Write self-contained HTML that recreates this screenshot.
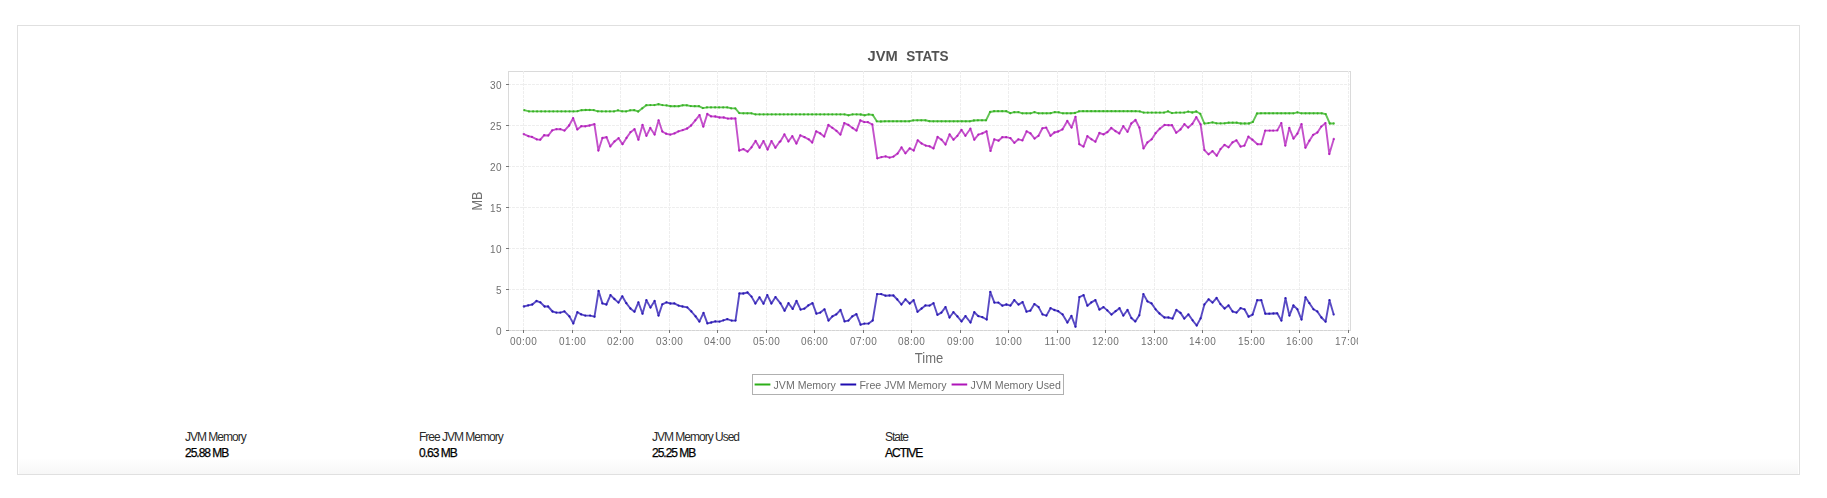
<!DOCTYPE html>
<html><head><meta charset="utf-8"><title>JVM Stats</title>
<style>
html,body{margin:0;padding:0;background:#fff;}
body{width:1827px;height:498px;position:relative;overflow:hidden;font-family:"Liberation Sans",Arial,sans-serif;}
.panel{position:absolute;left:17px;top:25px;width:1781px;height:448px;border:1px solid #e0e0e0;background:#fff;}
.foot{position:absolute;left:19px;top:459px;width:1779px;height:15px;background:linear-gradient(#fefefe,#f7f7f7);}
.st{position:absolute;top:430px;color:#2a2a2a;font-size:12px;letter-spacing:-1px;line-height:15px;}
.st b{display:block;font-weight:normal;color:#000;margin-top:1px;-webkit-text-stroke:0.25px #000;}
</style></head><body>
<div class="panel"></div>
<div class="foot"></div>
<div class="st" style="left:185px">JVM Memory<b>25.88 MB</b></div>
<div class="st" style="left:419px">Free JVM Memory<b>0.63 MB</b></div>
<div class="st" style="left:652px">JVM Memory Used<b>25.25 MB</b></div>
<div class="st" style="left:885px">State<b>ACTIVE</b></div>
<svg width="1827" height="498" viewBox="0 0 1827 498" style="position:absolute;left:0;top:0;will-change:transform">
<text y="61" font-family="Liberation Sans, Arial, sans-serif" font-size="14" font-weight="bold" fill="#525252"><tspan x="867.6" textLength="30.2" lengthAdjust="spacingAndGlyphs">JVM</tspan> <tspan x="906.2" textLength="42.4" lengthAdjust="spacingAndGlyphs">STATS</tspan></text>
<defs><clipPath id="cp"><rect x="0" y="0" width="1358" height="498"/></clipPath></defs><g clip-path="url(#cp)">
<rect x="508.5" y="71.5" width="842" height="259" fill="#fff" stroke="#dadada" stroke-width="1"/>
<path d="M508,84.5H1350 M508,125.5H1350 M508,166.5H1350 M508,207.5H1350 M508,248.5H1350 M508,289.5H1350 M523.5,71V330 M572.5,71V330 M620.5,71V330 M669.5,71V330 M717.5,71V330 M766.5,71V330 M814.5,71V330 M863.5,71V330 M911.5,71V330 M960.5,71V330 M1008.5,71V330 M1057.5,71V330 M1105.5,71V330 M1154.5,71V330 M1202.5,71V330 M1251.5,71V330 M1299.5,71V330 M1348.5,71V330" stroke="#eeeeee" stroke-width="1" stroke-dasharray="3,1" fill="none"/>
<path d="M508,330.5H1350" stroke="#e2e2e2" stroke-width="1" fill="none"/>
<path d="M508,330.5H1350" stroke="#d4d4d4" stroke-width="1" stroke-dasharray="3,1" fill="none"/>
<path d="M506,84.5h3 M506,125.5h3 M506,166.5h3 M506,207.5h3 M506,248.5h3 M506,289.5h3 M506,330.5h3 M523.5,330v3 M572.5,330v3 M620.5,330v3 M669.5,330v3 M717.5,330v3 M766.5,330v3 M814.5,330v3 M863.5,330v3 M911.5,330v3 M960.5,330v3 M1008.5,330v3 M1057.5,330v3 M1105.5,330v3 M1154.5,330v3 M1202.5,330v3 M1251.5,330v3 M1299.5,330v3 M1348.5,330v3" stroke="#777" stroke-width="1" fill="none"/>
<text x="501.9" y="89" text-anchor="end" letter-spacing="0.44" font-family="Liberation Sans, Arial, sans-serif" font-size="10" fill="#707070">30</text>
<text x="501.9" y="130" text-anchor="end" letter-spacing="0.44" font-family="Liberation Sans, Arial, sans-serif" font-size="10" fill="#707070">25</text>
<text x="501.9" y="171" text-anchor="end" letter-spacing="0.44" font-family="Liberation Sans, Arial, sans-serif" font-size="10" fill="#707070">20</text>
<text x="501.9" y="212" text-anchor="end" letter-spacing="0.44" font-family="Liberation Sans, Arial, sans-serif" font-size="10" fill="#707070">15</text>
<text x="501.9" y="253" text-anchor="end" letter-spacing="0.44" font-family="Liberation Sans, Arial, sans-serif" font-size="10" fill="#707070">10</text>
<text x="501.9" y="294" text-anchor="end" letter-spacing="0.44" font-family="Liberation Sans, Arial, sans-serif" font-size="10" fill="#707070">5</text>
<text x="501.9" y="335" text-anchor="end" letter-spacing="0.44" font-family="Liberation Sans, Arial, sans-serif" font-size="10" fill="#707070">0</text>
<text x="523.7" y="345" text-anchor="middle" letter-spacing="0.44" font-family="Liberation Sans, Arial, sans-serif" font-size="10" fill="#707070">00:00</text>
<text x="572.7" y="345" text-anchor="middle" letter-spacing="0.44" font-family="Liberation Sans, Arial, sans-serif" font-size="10" fill="#707070">01:00</text>
<text x="620.7" y="345" text-anchor="middle" letter-spacing="0.44" font-family="Liberation Sans, Arial, sans-serif" font-size="10" fill="#707070">02:00</text>
<text x="669.7" y="345" text-anchor="middle" letter-spacing="0.44" font-family="Liberation Sans, Arial, sans-serif" font-size="10" fill="#707070">03:00</text>
<text x="717.7" y="345" text-anchor="middle" letter-spacing="0.44" font-family="Liberation Sans, Arial, sans-serif" font-size="10" fill="#707070">04:00</text>
<text x="766.7" y="345" text-anchor="middle" letter-spacing="0.44" font-family="Liberation Sans, Arial, sans-serif" font-size="10" fill="#707070">05:00</text>
<text x="814.7" y="345" text-anchor="middle" letter-spacing="0.44" font-family="Liberation Sans, Arial, sans-serif" font-size="10" fill="#707070">06:00</text>
<text x="863.7" y="345" text-anchor="middle" letter-spacing="0.44" font-family="Liberation Sans, Arial, sans-serif" font-size="10" fill="#707070">07:00</text>
<text x="911.7" y="345" text-anchor="middle" letter-spacing="0.44" font-family="Liberation Sans, Arial, sans-serif" font-size="10" fill="#707070">08:00</text>
<text x="960.7" y="345" text-anchor="middle" letter-spacing="0.44" font-family="Liberation Sans, Arial, sans-serif" font-size="10" fill="#707070">09:00</text>
<text x="1008.7" y="345" text-anchor="middle" letter-spacing="0.44" font-family="Liberation Sans, Arial, sans-serif" font-size="10" fill="#707070">10:00</text>
<text x="1057.7" y="345" text-anchor="middle" letter-spacing="0.44" font-family="Liberation Sans, Arial, sans-serif" font-size="10" fill="#707070">11:00</text>
<text x="1105.7" y="345" text-anchor="middle" letter-spacing="0.44" font-family="Liberation Sans, Arial, sans-serif" font-size="10" fill="#707070">12:00</text>
<text x="1154.7" y="345" text-anchor="middle" letter-spacing="0.44" font-family="Liberation Sans, Arial, sans-serif" font-size="10" fill="#707070">13:00</text>
<text x="1202.7" y="345" text-anchor="middle" letter-spacing="0.44" font-family="Liberation Sans, Arial, sans-serif" font-size="10" fill="#707070">14:00</text>
<text x="1251.7" y="345" text-anchor="middle" letter-spacing="0.44" font-family="Liberation Sans, Arial, sans-serif" font-size="10" fill="#707070">15:00</text>
<text x="1299.7" y="345" text-anchor="middle" letter-spacing="0.44" font-family="Liberation Sans, Arial, sans-serif" font-size="10" fill="#707070">16:00</text>
<text x="1348.7" y="345" text-anchor="middle" letter-spacing="0.44" font-family="Liberation Sans, Arial, sans-serif" font-size="10" fill="#707070">17:00</text>
<text x="929" y="363" text-anchor="middle" textLength="28.4" lengthAdjust="spacingAndGlyphs" font-family="Liberation Sans, Arial, sans-serif" font-size="14" fill="#6e6e6e">Time</text>
<text x="482.3" y="201" transform="rotate(-90 482.3 201)" text-anchor="middle" textLength="19" lengthAdjust="spacingAndGlyphs" font-family="Liberation Sans, Arial, sans-serif" font-size="14" fill="#707070">MB</text>
<path d="M524.2,110.2 L529.0,111.4 L533.1,111.4 L537.1,111.4 L541.2,111.4 L545.2,111.4 L549.3,111.4 L553.3,111.4 L557.4,111.4 L561.4,111.4 L565.4,111.4 L569.5,111.4 L573.5,111.4 L577.6,111.2 L581.6,110.2 L585.7,110.0 L589.7,110.0 L593.7,110.1 L597.8,111.3 L601.8,111.4 L605.9,111.4 L609.9,111.4 L614.0,111.4 L618.0,110.3 L622.1,111.3 L626.1,111.4 L630.1,110.3 L634.2,110.2 L638.2,111.5 L642.3,108.3 L646.3,105.2 L650.4,105.1 L654.4,105.1 L658.5,104.2 L662.5,105.1 L666.5,105.4 L670.6,106.2 L674.6,106.2 L678.7,106.2 L682.7,105.3 L686.8,105.3 L690.8,106.1 L694.8,106.2 L698.9,106.2 L702.9,108.1 L707.0,107.4 L711.0,107.4 L715.1,107.4 L719.1,107.4 L723.2,107.4 L727.2,107.4 L731.2,108.3 L735.3,108.4 L739.3,113.1 L743.4,113.3 L747.4,113.3 L751.5,113.3 L755.5,114.4 L759.6,114.4 L763.6,114.4 L767.6,114.4 L771.7,114.4 L775.7,114.4 L779.8,114.4 L783.8,114.4 L787.9,114.4 L791.9,114.4 L795.9,114.4 L800.0,114.4 L804.0,114.4 L808.1,114.4 L812.1,114.4 L816.2,114.4 L820.2,114.4 L824.3,114.4 L828.3,114.4 L832.3,114.4 L836.4,114.4 L840.4,114.4 L844.5,114.4 L848.5,115.3 L852.6,114.4 L856.6,114.4 L860.7,114.5 L864.7,115.3 L868.7,114.4 L872.8,115.0 L876.8,121.3 L880.9,121.5 L884.9,121.3 L889.0,121.3 L893.0,121.3 L897.0,121.3 L901.1,121.3 L905.1,121.3 L909.2,121.3 L913.2,120.4 L917.3,120.3 L921.3,120.3 L925.4,120.3 L929.4,121.2 L933.4,121.3 L937.5,121.3 L941.5,121.3 L945.6,121.3 L949.6,121.3 L953.7,121.3 L957.7,121.3 L961.8,121.3 L965.8,121.3 L969.8,121.3 L973.9,120.5 L977.9,120.3 L982.0,120.3 L986.0,120.3 L990.1,112.0 L994.1,111.2 L998.1,111.2 L1002.2,111.2 L1006.2,111.2 L1010.3,113.2 L1014.3,112.2 L1018.4,112.1 L1022.4,113.3 L1026.5,113.3 L1030.5,113.3 L1034.5,112.2 L1038.6,113.3 L1042.6,113.3 L1046.7,113.3 L1050.7,113.2 L1054.8,112.1 L1058.8,112.3 L1062.9,113.3 L1066.9,113.3 L1070.9,113.3 L1075.0,113.0 L1079.0,111.3 L1083.1,111.2 L1087.1,111.2 L1091.2,111.2 L1095.2,111.2 L1099.2,111.2 L1103.3,111.2 L1107.3,111.2 L1111.4,111.2 L1115.4,111.2 L1119.5,111.2 L1123.5,111.2 L1127.6,111.2 L1131.6,111.2 L1135.6,111.2 L1139.7,111.4 L1143.7,112.6 L1147.8,112.6 L1151.8,112.6 L1155.9,112.6 L1159.9,112.6 L1164.0,112.6 L1168.0,111.3 L1172.0,113.1 L1176.1,112.6 L1180.1,112.6 L1184.2,112.6 L1188.2,111.6 L1192.3,112.5 L1196.3,111.5 L1200.3,113.8 L1204.4,123.5 L1208.4,123.1 L1212.5,122.4 L1216.5,123.3 L1220.6,123.4 L1224.6,123.3 L1228.7,122.7 L1232.7,122.7 L1236.7,122.7 L1240.8,123.5 L1244.8,123.5 L1248.9,123.5 L1252.9,121.9 L1257.0,113.5 L1261.0,113.3 L1265.1,113.3 L1269.1,113.3 L1273.1,113.3 L1277.2,113.3 L1281.2,113.3 L1285.3,113.3 L1289.3,113.3 L1293.4,113.3 L1297.4,112.3 L1301.4,113.3 L1305.5,113.3 L1309.5,113.3 L1313.6,113.3 L1317.6,113.3 L1321.7,113.3 L1325.7,114.1 L1329.8,123.5 L1333.8,123.5" stroke="#2daf19" stroke-width="1.9" stroke-opacity="0.74" fill="none" stroke-linejoin="round"/>
<path d="M524.2,110.2h0M529.0,111.4h0M533.1,111.4h0M537.1,111.4h0M541.2,111.4h0M545.2,111.4h0M549.3,111.4h0M553.3,111.4h0M557.4,111.4h0M561.4,111.4h0M565.4,111.4h0M569.5,111.4h0M573.5,111.4h0M577.6,111.2h0M581.6,110.2h0M585.7,110.0h0M589.7,110.0h0M593.7,110.1h0M597.8,111.3h0M601.8,111.4h0M605.9,111.4h0M609.9,111.4h0M614.0,111.4h0M618.0,110.3h0M622.1,111.3h0M626.1,111.4h0M630.1,110.3h0M634.2,110.2h0M638.2,111.5h0M642.3,108.3h0M646.3,105.2h0M650.4,105.1h0M654.4,105.1h0M658.5,104.2h0M662.5,105.1h0M666.5,105.4h0M670.6,106.2h0M674.6,106.2h0M678.7,106.2h0M682.7,105.3h0M686.8,105.3h0M690.8,106.1h0M694.8,106.2h0M698.9,106.2h0M702.9,108.1h0M707.0,107.4h0M711.0,107.4h0M715.1,107.4h0M719.1,107.4h0M723.2,107.4h0M727.2,107.4h0M731.2,108.3h0M735.3,108.4h0M739.3,113.1h0M743.4,113.3h0M747.4,113.3h0M751.5,113.3h0M755.5,114.4h0M759.6,114.4h0M763.6,114.4h0M767.6,114.4h0M771.7,114.4h0M775.7,114.4h0M779.8,114.4h0M783.8,114.4h0M787.9,114.4h0M791.9,114.4h0M795.9,114.4h0M800.0,114.4h0M804.0,114.4h0M808.1,114.4h0M812.1,114.4h0M816.2,114.4h0M820.2,114.4h0M824.3,114.4h0M828.3,114.4h0M832.3,114.4h0M836.4,114.4h0M840.4,114.4h0M844.5,114.4h0M848.5,115.3h0M852.6,114.4h0M856.6,114.4h0M860.7,114.5h0M864.7,115.3h0M868.7,114.4h0M872.8,115.0h0M876.8,121.3h0M880.9,121.5h0M884.9,121.3h0M889.0,121.3h0M893.0,121.3h0M897.0,121.3h0M901.1,121.3h0M905.1,121.3h0M909.2,121.3h0M913.2,120.4h0M917.3,120.3h0M921.3,120.3h0M925.4,120.3h0M929.4,121.2h0M933.4,121.3h0M937.5,121.3h0M941.5,121.3h0M945.6,121.3h0M949.6,121.3h0M953.7,121.3h0M957.7,121.3h0M961.8,121.3h0M965.8,121.3h0M969.8,121.3h0M973.9,120.5h0M977.9,120.3h0M982.0,120.3h0M986.0,120.3h0M990.1,112.0h0M994.1,111.2h0M998.1,111.2h0M1002.2,111.2h0M1006.2,111.2h0M1010.3,113.2h0M1014.3,112.2h0M1018.4,112.1h0M1022.4,113.3h0M1026.5,113.3h0M1030.5,113.3h0M1034.5,112.2h0M1038.6,113.3h0M1042.6,113.3h0M1046.7,113.3h0M1050.7,113.2h0M1054.8,112.1h0M1058.8,112.3h0M1062.9,113.3h0M1066.9,113.3h0M1070.9,113.3h0M1075.0,113.0h0M1079.0,111.3h0M1083.1,111.2h0M1087.1,111.2h0M1091.2,111.2h0M1095.2,111.2h0M1099.2,111.2h0M1103.3,111.2h0M1107.3,111.2h0M1111.4,111.2h0M1115.4,111.2h0M1119.5,111.2h0M1123.5,111.2h0M1127.6,111.2h0M1131.6,111.2h0M1135.6,111.2h0M1139.7,111.4h0M1143.7,112.6h0M1147.8,112.6h0M1151.8,112.6h0M1155.9,112.6h0M1159.9,112.6h0M1164.0,112.6h0M1168.0,111.3h0M1172.0,113.1h0M1176.1,112.6h0M1180.1,112.6h0M1184.2,112.6h0M1188.2,111.6h0M1192.3,112.5h0M1196.3,111.5h0M1200.3,113.8h0M1204.4,123.5h0M1208.4,123.1h0M1212.5,122.4h0M1216.5,123.3h0M1220.6,123.4h0M1224.6,123.3h0M1228.7,122.7h0M1232.7,122.7h0M1236.7,122.7h0M1240.8,123.5h0M1244.8,123.5h0M1248.9,123.5h0M1252.9,121.9h0M1257.0,113.5h0M1261.0,113.3h0M1265.1,113.3h0M1269.1,113.3h0M1273.1,113.3h0M1277.2,113.3h0M1281.2,113.3h0M1285.3,113.3h0M1289.3,113.3h0M1293.4,113.3h0M1297.4,112.3h0M1301.4,113.3h0M1305.5,113.3h0M1309.5,113.3h0M1313.6,113.3h0M1317.6,113.3h0M1321.7,113.3h0M1325.7,114.1h0M1329.8,123.5h0M1333.8,123.5h0" stroke="#2daf19" stroke-width="2.3" stroke-opacity="0.8" stroke-linecap="round" fill="none"/>
<path d="M523.8,306.5 L528.2,305.4 L532.3,304.5 L536.5,301.0 L540.4,302.4 L544.6,306.5 L548.1,306.5 L552.5,311.5 L556.4,312.6 L560.3,312.6 L564.4,311.4 L569.4,316.4 L573.3,323.4 L577.4,312.2 L581.2,314.4 L585.3,315.6 L590.1,315.6 L594.5,316.7 L598.6,291.0 L602.4,303.4 L606.4,304.5 L610.5,295.1 L614.4,299.0 L618.5,302.6 L622.3,296.3 L626.3,303.2 L630.4,308.5 L634.5,311.7 L638.4,302.3 L642.5,313.7 L646.4,300.2 L650.5,307.6 L654.6,301.0 L658.5,315.6 L662.3,304.3 L666.5,302.3 L670.4,303.5 L674.3,303.4 L678.7,305.6 L682.5,306.5 L687.3,307.4 L691.4,311.5 L695.6,316.4 L699.4,321.6 L703.5,312.9 L707.4,323.4 L711.2,322.5 L715.3,321.4 L719.5,321.6 L723.4,320.3 L727.3,319.2 L731.7,320.6 L735.5,320.6 L739.4,293.5 L743.3,293.5 L747.5,292.5 L751.5,296.6 L755.4,303.5 L759.5,297.3 L763.5,303.7 L767.3,295.1 L771.4,303.5 L775.5,297.1 L780.5,303.4 L784.6,310.7 L788.5,303.2 L792.7,308.9 L796.5,301.0 L800.6,309.6 L804.3,308.7 L808.3,305.4 L812.5,303.2 L816.4,313.7 L820.3,312.6 L824.5,309.3 L828.5,320.6 L832.4,316.4 L836.3,314.4 L840.5,310.0 L844.6,321.4 L848.4,320.6 L852.3,316.4 L856.4,314.2 L860.6,324.7 L864.4,323.6 L868.6,323.6 L872.7,320.5 L877.1,294.1 L881.2,294.1 L885.4,295.7 L889.5,295.5 L893.4,295.5 L897.3,299.5 L901.4,304.5 L905.5,299.3 L909.7,303.5 L913.6,300.2 L917.5,311.8 L921.6,308.5 L925.4,305.4 L929.5,305.6 L933.5,303.2 L937.4,314.8 L941.4,312.6 L945.5,307.1 L949.5,317.5 L953.4,312.2 L957.4,316.4 L961.5,321.4 L965.5,316.1 L970.5,322.5 L974.3,312.2 L978.4,316.2 L982.3,317.2 L986.7,319.5 L990.3,291.9 L994.4,302.6 L998.3,302.6 L1002.4,305.7 L1006.4,304.5 L1010.4,305.6 L1014.3,300.1 L1018.5,304.6 L1022.6,302.1 L1026.5,311.7 L1030.3,310.7 L1034.4,304.1 L1038.6,307.1 L1042.5,314.4 L1046.4,315.6 L1050.5,308.2 L1054.3,310.0 L1058.2,311.2 L1062.6,314.4 L1067.4,322.5 L1071.4,315.9 L1075.5,326.7 L1079.4,297.1 L1083.6,295.2 L1087.4,305.7 L1091.3,302.4 L1095.4,300.1 L1099.4,309.6 L1103.5,307.1 L1107.3,310.4 L1111.5,314.6 L1115.6,311.2 L1119.5,308.2 L1123.3,315.6 L1127.5,310.0 L1131.4,318.1 L1135.3,321.4 L1139.3,315.3 L1143.4,294.1 L1147.4,301.3 L1151.5,303.4 L1155.6,309.3 L1159.5,313.5 L1164.4,317.5 L1168.4,317.5 L1172.5,318.6 L1176.4,310.0 L1180.5,312.9 L1184.3,318.6 L1188.4,314.4 L1192.6,320.3 L1196.7,325.5 L1200.6,318.4 L1204.4,304.5 L1208.6,299.3 L1212.5,302.6 L1216.6,298.0 L1220.4,304.1 L1224.6,308.5 L1228.5,305.4 L1232.6,311.5 L1236.5,312.6 L1240.6,308.2 L1244.5,309.3 L1248.6,316.7 L1252.6,314.6 L1257.2,300.2 L1261.3,300.2 L1265.3,313.7 L1269.3,313.7 L1273.4,313.5 L1277.2,313.3 L1281.4,320.6 L1285.5,298.2 L1289.4,315.6 L1293.4,305.4 L1297.4,309.3 L1301.5,319.5 L1305.5,297.3 L1309.4,303.2 L1313.5,309.3 L1317.3,311.5 L1321.4,317.5 L1325.6,321.7 L1329.5,300.2 L1333.7,314.6" stroke="#1f0cb0" stroke-width="1.9" stroke-opacity="0.74" fill="none" stroke-linejoin="round"/>
<path d="M523.8,306.5h0M528.2,305.4h0M532.3,304.5h0M536.5,301.0h0M540.4,302.4h0M544.6,306.5h0M548.1,306.5h0M552.5,311.5h0M556.4,312.6h0M560.3,312.6h0M564.4,311.4h0M569.4,316.4h0M573.3,323.4h0M577.4,312.2h0M581.2,314.4h0M585.3,315.6h0M590.1,315.6h0M594.5,316.7h0M598.6,291.0h0M602.4,303.4h0M606.4,304.5h0M610.5,295.1h0M614.4,299.0h0M618.5,302.6h0M622.3,296.3h0M626.3,303.2h0M630.4,308.5h0M634.5,311.7h0M638.4,302.3h0M642.5,313.7h0M646.4,300.2h0M650.5,307.6h0M654.6,301.0h0M658.5,315.6h0M662.3,304.3h0M666.5,302.3h0M670.4,303.5h0M674.3,303.4h0M678.7,305.6h0M682.5,306.5h0M687.3,307.4h0M691.4,311.5h0M695.6,316.4h0M699.4,321.6h0M703.5,312.9h0M707.4,323.4h0M711.2,322.5h0M715.3,321.4h0M719.5,321.6h0M723.4,320.3h0M727.3,319.2h0M731.7,320.6h0M735.5,320.6h0M739.4,293.5h0M743.3,293.5h0M747.5,292.5h0M751.5,296.6h0M755.4,303.5h0M759.5,297.3h0M763.5,303.7h0M767.3,295.1h0M771.4,303.5h0M775.5,297.1h0M780.5,303.4h0M784.6,310.7h0M788.5,303.2h0M792.7,308.9h0M796.5,301.0h0M800.6,309.6h0M804.3,308.7h0M808.3,305.4h0M812.5,303.2h0M816.4,313.7h0M820.3,312.6h0M824.5,309.3h0M828.5,320.6h0M832.4,316.4h0M836.3,314.4h0M840.5,310.0h0M844.6,321.4h0M848.4,320.6h0M852.3,316.4h0M856.4,314.2h0M860.6,324.7h0M864.4,323.6h0M868.6,323.6h0M872.7,320.5h0M877.1,294.1h0M881.2,294.1h0M885.4,295.7h0M889.5,295.5h0M893.4,295.5h0M897.3,299.5h0M901.4,304.5h0M905.5,299.3h0M909.7,303.5h0M913.6,300.2h0M917.5,311.8h0M921.6,308.5h0M925.4,305.4h0M929.5,305.6h0M933.5,303.2h0M937.4,314.8h0M941.4,312.6h0M945.5,307.1h0M949.5,317.5h0M953.4,312.2h0M957.4,316.4h0M961.5,321.4h0M965.5,316.1h0M970.5,322.5h0M974.3,312.2h0M978.4,316.2h0M982.3,317.2h0M986.7,319.5h0M990.3,291.9h0M994.4,302.6h0M998.3,302.6h0M1002.4,305.7h0M1006.4,304.5h0M1010.4,305.6h0M1014.3,300.1h0M1018.5,304.6h0M1022.6,302.1h0M1026.5,311.7h0M1030.3,310.7h0M1034.4,304.1h0M1038.6,307.1h0M1042.5,314.4h0M1046.4,315.6h0M1050.5,308.2h0M1054.3,310.0h0M1058.2,311.2h0M1062.6,314.4h0M1067.4,322.5h0M1071.4,315.9h0M1075.5,326.7h0M1079.4,297.1h0M1083.6,295.2h0M1087.4,305.7h0M1091.3,302.4h0M1095.4,300.1h0M1099.4,309.6h0M1103.5,307.1h0M1107.3,310.4h0M1111.5,314.6h0M1115.6,311.2h0M1119.5,308.2h0M1123.3,315.6h0M1127.5,310.0h0M1131.4,318.1h0M1135.3,321.4h0M1139.3,315.3h0M1143.4,294.1h0M1147.4,301.3h0M1151.5,303.4h0M1155.6,309.3h0M1159.5,313.5h0M1164.4,317.5h0M1168.4,317.5h0M1172.5,318.6h0M1176.4,310.0h0M1180.5,312.9h0M1184.3,318.6h0M1188.4,314.4h0M1192.6,320.3h0M1196.7,325.5h0M1200.6,318.4h0M1204.4,304.5h0M1208.6,299.3h0M1212.5,302.6h0M1216.6,298.0h0M1220.4,304.1h0M1224.6,308.5h0M1228.5,305.4h0M1232.6,311.5h0M1236.5,312.6h0M1240.6,308.2h0M1244.5,309.3h0M1248.6,316.7h0M1252.6,314.6h0M1257.2,300.2h0M1261.3,300.2h0M1265.3,313.7h0M1269.3,313.7h0M1273.4,313.5h0M1277.2,313.3h0M1281.4,320.6h0M1285.5,298.2h0M1289.4,315.6h0M1293.4,305.4h0M1297.4,309.3h0M1301.5,319.5h0M1305.5,297.3h0M1309.4,303.2h0M1313.5,309.3h0M1317.3,311.5h0M1321.4,317.5h0M1325.6,321.7h0M1329.5,300.2h0M1333.7,314.6h0" stroke="#1f0cb0" stroke-width="2.3" stroke-opacity="0.8" stroke-linecap="round" fill="none"/>
<path d="M523.7,134.1 L528.4,136.2 L531.9,136.9 L536.8,139.4 L540.3,139.7 L544.2,135.2 L548.3,135.5 L552.2,130.4 L556.5,129.2 L560.3,129.2 L564.5,130.6 L569.1,125.5 L573.1,118.2 L577.3,129.4 L581.3,126.2 L585.3,126.3 L589.5,125.5 L594.4,124.2 L598.4,150.5 L602.4,138.0 L606.5,137.2 L610.3,146.4 L614.5,141.4 L618.6,138.2 L622.5,144.2 L626.5,137.9 L630.5,132.2 L634.5,129.2 L638.4,139.7 L642.5,124.9 L646.4,135.8 L650.3,128.0 L654.6,134.6 L658.6,120.3 L662.3,131.5 L666.1,133.7 L670.3,134.6 L674.5,133.4 L678.5,131.3 L682.7,130.1 L687.2,128.5 L691.1,125.5 L695.3,120.3 L699.5,115.1 L703.3,126.6 L707.3,114.0 L711.1,116.4 L715.3,116.5 L719.5,117.5 L723.7,117.5 L727.9,118.6 L731.4,118.5 L735.4,118.5 L739.2,150.5 L743.4,149.1 L747.6,151.6 L751.5,147.3 L755.6,141.0 L759.6,147.7 L763.5,141.1 L767.6,149.5 L771.5,141.1 L775.4,147.7 L779.7,141.8 L780.3,141.4 L784.4,134.4 L788.4,141.4 L792.3,136.2 L796.4,143.5 L800.3,135.3 L804.5,137.2 L808.7,139.3 L812.2,142.5 L816.2,131.3 L820.3,133.4 L824.2,136.5 L828.4,124.9 L832.3,127.8 L836.4,130.8 L840.4,134.6 L844.3,123.1 L848.4,124.9 L852.6,128.0 L856.5,130.6 L860.3,120.3 L864.3,122.1 L867.8,122.1 L872.3,124.5 L877.3,158.3 L881.5,157.1 L885.6,156.4 L889.6,157.6 L893.5,156.6 L897.6,153.6 L901.5,147.4 L905.4,153.3 L909.7,148.4 L913.7,150.5 L917.7,140.3 L921.6,143.5 L925.8,145.6 L929.6,146.3 L933.5,148.4 L937.6,136.9 L941.5,139.7 L945.5,144.5 L949.6,134.4 L953.5,139.7 L957.4,135.8 L961.5,129.9 L965.4,135.8 L970.4,128.7 L974.3,139.7 L978.4,134.6 L982.3,133.4 L986.5,131.3 L990.5,150.9 L994.3,139.3 L998.5,140.7 L1002.3,137.2 L1006.2,137.2 L1010.4,138.2 L1014.4,142.8 L1018.4,139.3 L1022.4,140.4 L1026.6,131.3 L1030.5,133.4 L1034.6,138.6 L1038.5,135.8 L1042.4,128.3 L1046.2,127.6 L1050.5,135.8 L1054.4,132.5 L1058.2,131.5 L1062.4,129.4 L1067.3,121.0 L1071.5,127.6 L1075.5,116.8 L1079.3,144.2 L1083.5,146.6 L1087.4,136.2 L1091.5,139.3 L1095.4,141.7 L1099.4,133.0 L1103.5,134.4 L1107.4,132.2 L1111.3,128.0 L1115.4,131.1 L1119.3,133.4 L1123.3,126.2 L1127.5,131.8 L1131.3,123.5 L1135.5,120.0 L1139.4,127.6 L1143.5,148.4 L1147.4,142.5 L1151.7,139.3 L1155.6,133.2 L1159.8,128.7 L1164.6,124.9 L1168.5,125.2 L1172.0,125.2 L1176.2,132.7 L1180.5,129.4 L1184.4,124.2 L1188.2,127.6 L1192.4,123.8 L1196.3,117.2 L1200.6,124.5 L1204.4,150.1 L1208.6,154.3 L1212.5,151.2 L1216.7,155.7 L1220.5,149.1 L1224.5,144.9 L1228.5,147.3 L1232.5,142.4 L1236.4,140.3 L1240.6,146.6 L1244.4,145.6 L1248.4,136.7 L1252.4,139.7 L1257.5,144.2 L1261.3,144.2 L1265.2,130.6 L1269.7,130.6 L1273.2,130.6 L1277.3,130.4 L1281.3,123.1 L1285.3,145.6 L1289.3,128.0 L1293.5,138.6 L1297.4,133.7 L1301.5,124.2 L1305.4,147.7 L1309.4,140.7 L1313.2,134.8 L1317.4,132.5 L1321.3,126.6 L1325.4,123.1 L1329.3,154.0 L1333.8,139.0" stroke="#af14b9" stroke-width="1.9" stroke-opacity="0.74" fill="none" stroke-linejoin="round"/>
<path d="M523.7,134.1h0M528.4,136.2h0M531.9,136.9h0M536.8,139.4h0M540.3,139.7h0M544.2,135.2h0M548.3,135.5h0M552.2,130.4h0M556.5,129.2h0M560.3,129.2h0M564.5,130.6h0M569.1,125.5h0M573.1,118.2h0M577.3,129.4h0M581.3,126.2h0M585.3,126.3h0M589.5,125.5h0M594.4,124.2h0M598.4,150.5h0M602.4,138.0h0M606.5,137.2h0M610.3,146.4h0M614.5,141.4h0M618.6,138.2h0M622.5,144.2h0M626.5,137.9h0M630.5,132.2h0M634.5,129.2h0M638.4,139.7h0M642.5,124.9h0M646.4,135.8h0M650.3,128.0h0M654.6,134.6h0M658.6,120.3h0M662.3,131.5h0M666.1,133.7h0M670.3,134.6h0M674.5,133.4h0M678.5,131.3h0M682.7,130.1h0M687.2,128.5h0M691.1,125.5h0M695.3,120.3h0M699.5,115.1h0M703.3,126.6h0M707.3,114.0h0M711.1,116.4h0M715.3,116.5h0M719.5,117.5h0M723.7,117.5h0M727.9,118.6h0M731.4,118.5h0M735.4,118.5h0M739.2,150.5h0M743.4,149.1h0M747.6,151.6h0M751.5,147.3h0M755.6,141.0h0M759.6,147.7h0M763.5,141.1h0M767.6,149.5h0M771.5,141.1h0M775.4,147.7h0M779.7,141.8h0M780.3,141.4h0M784.4,134.4h0M788.4,141.4h0M792.3,136.2h0M796.4,143.5h0M800.3,135.3h0M804.5,137.2h0M808.7,139.3h0M812.2,142.5h0M816.2,131.3h0M820.3,133.4h0M824.2,136.5h0M828.4,124.9h0M832.3,127.8h0M836.4,130.8h0M840.4,134.6h0M844.3,123.1h0M848.4,124.9h0M852.6,128.0h0M856.5,130.6h0M860.3,120.3h0M864.3,122.1h0M867.8,122.1h0M872.3,124.5h0M877.3,158.3h0M881.5,157.1h0M885.6,156.4h0M889.6,157.6h0M893.5,156.6h0M897.6,153.6h0M901.5,147.4h0M905.4,153.3h0M909.7,148.4h0M913.7,150.5h0M917.7,140.3h0M921.6,143.5h0M925.8,145.6h0M929.6,146.3h0M933.5,148.4h0M937.6,136.9h0M941.5,139.7h0M945.5,144.5h0M949.6,134.4h0M953.5,139.7h0M957.4,135.8h0M961.5,129.9h0M965.4,135.8h0M970.4,128.7h0M974.3,139.7h0M978.4,134.6h0M982.3,133.4h0M986.5,131.3h0M990.5,150.9h0M994.3,139.3h0M998.5,140.7h0M1002.3,137.2h0M1006.2,137.2h0M1010.4,138.2h0M1014.4,142.8h0M1018.4,139.3h0M1022.4,140.4h0M1026.6,131.3h0M1030.5,133.4h0M1034.6,138.6h0M1038.5,135.8h0M1042.4,128.3h0M1046.2,127.6h0M1050.5,135.8h0M1054.4,132.5h0M1058.2,131.5h0M1062.4,129.4h0M1067.3,121.0h0M1071.5,127.6h0M1075.5,116.8h0M1079.3,144.2h0M1083.5,146.6h0M1087.4,136.2h0M1091.5,139.3h0M1095.4,141.7h0M1099.4,133.0h0M1103.5,134.4h0M1107.4,132.2h0M1111.3,128.0h0M1115.4,131.1h0M1119.3,133.4h0M1123.3,126.2h0M1127.5,131.8h0M1131.3,123.5h0M1135.5,120.0h0M1139.4,127.6h0M1143.5,148.4h0M1147.4,142.5h0M1151.7,139.3h0M1155.6,133.2h0M1159.8,128.7h0M1164.6,124.9h0M1168.5,125.2h0M1172.0,125.2h0M1176.2,132.7h0M1180.5,129.4h0M1184.4,124.2h0M1188.2,127.6h0M1192.4,123.8h0M1196.3,117.2h0M1200.6,124.5h0M1204.4,150.1h0M1208.6,154.3h0M1212.5,151.2h0M1216.7,155.7h0M1220.5,149.1h0M1224.5,144.9h0M1228.5,147.3h0M1232.5,142.4h0M1236.4,140.3h0M1240.6,146.6h0M1244.4,145.6h0M1248.4,136.7h0M1252.4,139.7h0M1257.5,144.2h0M1261.3,144.2h0M1265.2,130.6h0M1269.7,130.6h0M1273.2,130.6h0M1277.3,130.4h0M1281.3,123.1h0M1285.3,145.6h0M1289.3,128.0h0M1293.5,138.6h0M1297.4,133.7h0M1301.5,124.2h0M1305.4,147.7h0M1309.4,140.7h0M1313.2,134.8h0M1317.4,132.5h0M1321.3,126.6h0M1325.4,123.1h0M1329.3,154.0h0M1333.8,139.0h0" stroke="#af14b9" stroke-width="2.3" stroke-opacity="0.8" stroke-linecap="round" fill="none"/>
<rect x="752.5" y="374.5" width="311" height="20" fill="#fff" stroke="#b0b0b0" stroke-width="1"/>
<path d="M754.6,384.5H770.4" stroke="#2daf19" stroke-width="2"/>
<text x="773.6" y="389" textLength="62.2" lengthAdjust="spacingAndGlyphs" font-family="Liberation Sans, Arial, sans-serif" font-size="11" fill="#6e6e6e">JVM Memory</text>
<path d="M840.4,384.5H856.2" stroke="#1f0cb0" stroke-width="2"/>
<text x="859.4" y="389" textLength="87.2" lengthAdjust="spacingAndGlyphs" font-family="Liberation Sans, Arial, sans-serif" font-size="11" fill="#6e6e6e">Free JVM Memory</text>
<path d="M951.6,384.5H967.2" stroke="#af14b9" stroke-width="2"/>
<text x="970.6" y="389" textLength="90.3" lengthAdjust="spacingAndGlyphs" font-family="Liberation Sans, Arial, sans-serif" font-size="11" fill="#6e6e6e">JVM Memory Used</text>
</g></svg>
</body></html>
